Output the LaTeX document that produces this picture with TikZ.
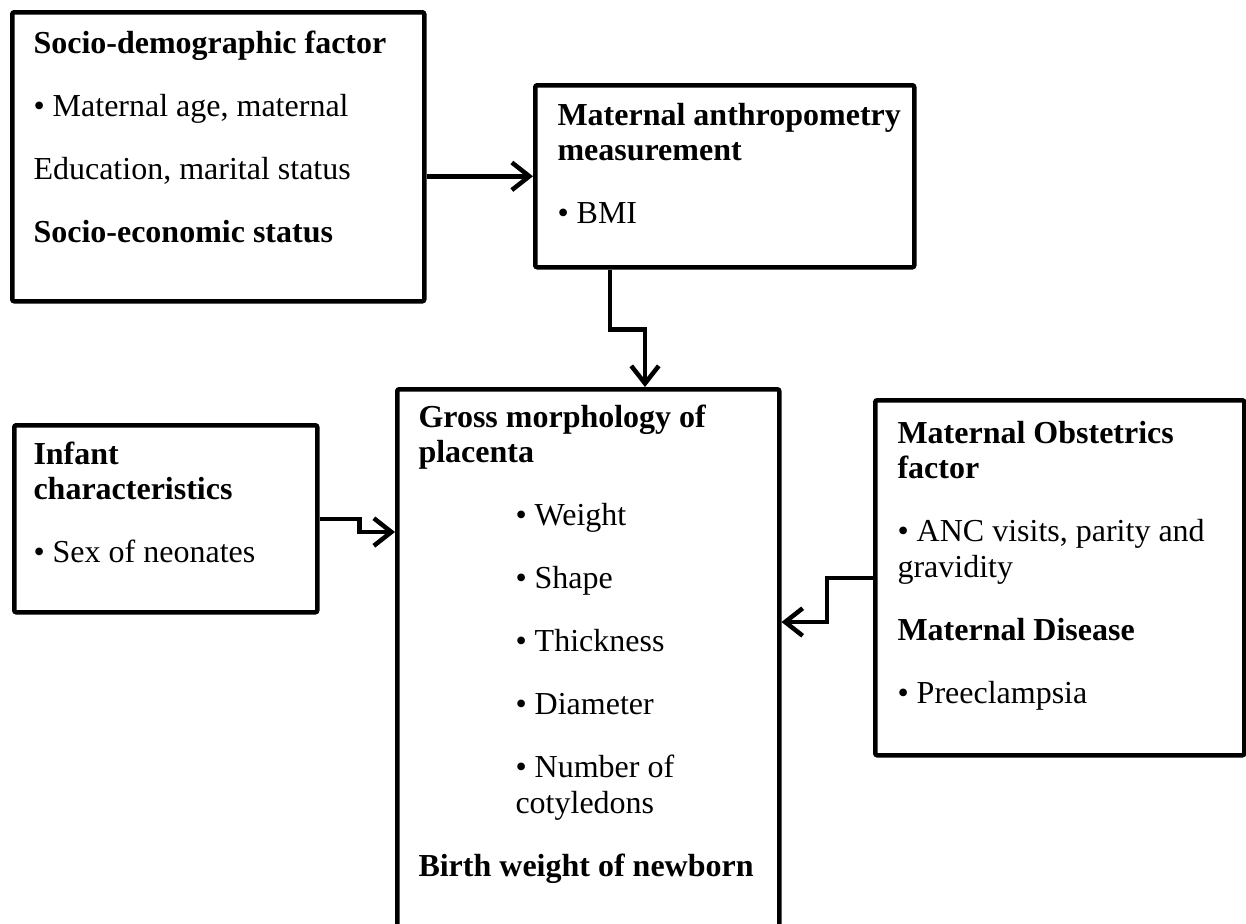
\documentclass[tikz,border=0pt]{standalone}
\usepackage{fontspec}
\setmainfont{Liberation Serif}
\usetikzlibrary{arrows.meta,positioning,calc}

\newcommand{\bul}{\textbullet\ }
\newcommand{\gap}{\\[11pt]}
\newcommand{\ind}{\hspace*{38.8pt}}

\begin{document}
\begin{tikzpicture}[x=0.4pt,y=-0.4pt,
   box/.style={draw,line width=1.8pt,rounded corners=0.8pt,anchor=north west,inner sep=0pt},
   txt/.style={anchor=north west,align=left,inner sep=0pt,font=\fontsize{12.8}{14.2}\selectfont},
   flow/.style={-{Straight Barb[length=7pt,width=11pt]},line width=1.8pt}]
  \clip (0,0) rectangle (1246,923);
  % boxes
  \node[box,minimum width=164.8pt,minimum height=115.6pt] (socio) at (10,10) {};
  \node[box,minimum width=151.6pt,minimum height=72.8pt] (anthro) at (533,83) {};
  \node[box,minimum width=152.8pt,minimum height=229.2pt] (placenta) at (395,387) {};
  \node[box,minimum width=147.6pt,minimum height=142pt] (obst) at (873,398) {};
  \node[box,minimum width=121.2pt,minimum height=74.8pt] (infant) at (12,423) {};
  % texts
  \node[txt] (sociotxt) at (33,28) {\strut\textbf{Socio-demographic factor}\gap
    \bul Maternal age, maternal\gap
    Education, marital status\gap
    \textbf{Socio-economic status}};
  \node[txt] (anthrotxt) at (557,100) {\strut\textbf{Maternal anthropometry}\\
    \textbf{measurement}\gap
    \bul BMI};
  \node[txt] (placentatxt) at (418,402) {\strut\textbf{Gross morphology of}\\
    \textbf{placenta}\gap
    \ind\bul Weight\gap
    \ind\bul Shape\gap
    \ind\bul Thickness\gap
    \ind\bul Diameter\gap
    \ind\bul Number of\\
    \ind cotyledons\gap
    \textbf{Birth weight of newborn}};
  \node[txt] (obsttxt) at (897,418) {\strut\textbf{Maternal Obstetrics}\\
    \textbf{factor}\gap
    \bul ANC visits, parity and\\
    gravidity\gap
    \textbf{Maternal Disease}\gap
    \bul Preeclampsia};
  \node[txt] (infanttxt) at (33,439) {\strut\textbf{Infant}\\
    \textbf{characteristics}\gap
    \bul Sex of neonates};
  % connectors
  \draw[flow] (anthro.west -| socio.east) -- (anthro.west);
  \draw[flow] ($(anthro.south west)+(77,0)$) -- ++(0,60) -| ($(placenta.north west)+(250,0)$);
  \draw[flow] (infant.east) -- ++(40,0) |- (placenta.west |- 0,532);
  \draw[flow] (obst.west) -- ++(-46,0) |- (placenta.east |- 0,622);
\end{tikzpicture}
\end{document}
